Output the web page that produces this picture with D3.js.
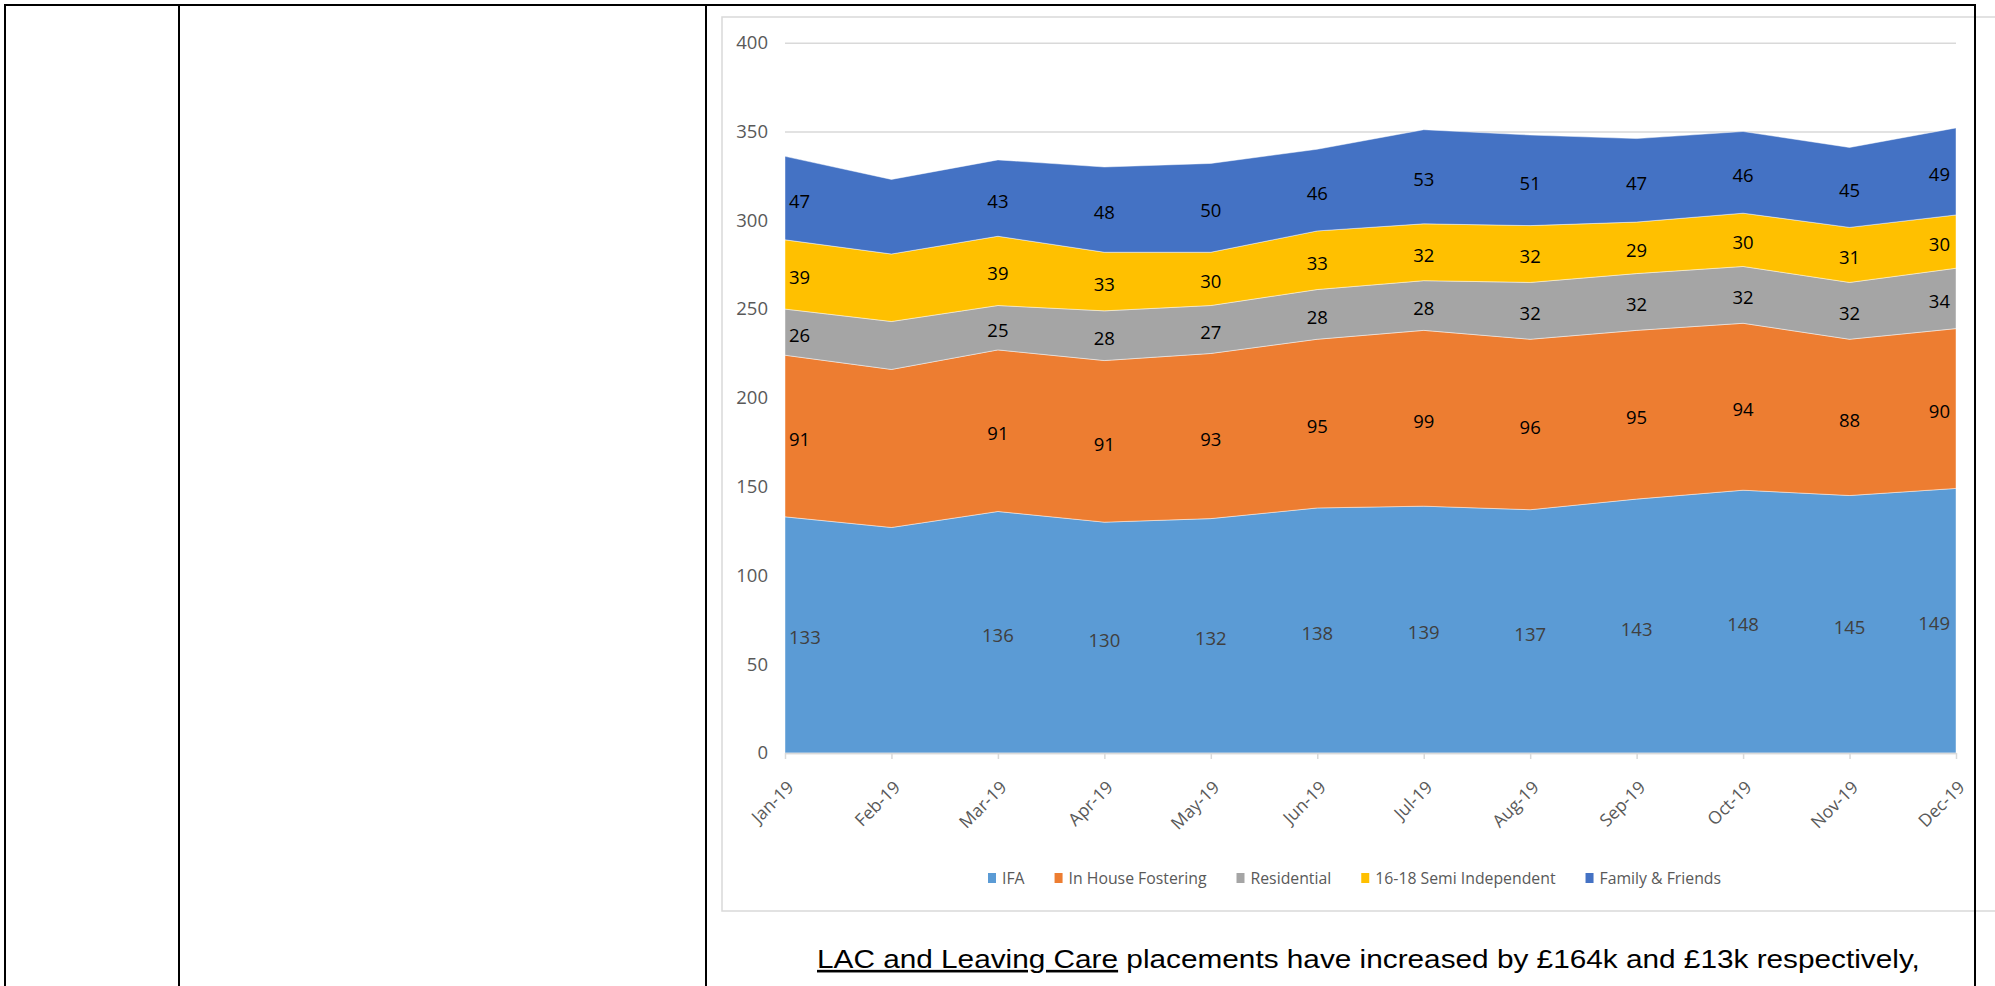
<!DOCTYPE html>
<html>
<head>
<meta charset="utf-8">
<script src="https://cdn.jsdelivr.net/npm/d3@7/dist/d3.min.js"></script>
<style>
  body { margin: 0; background: #fff; }
  svg { display: block; }
</style>
</head>
<body>
<svg width="1995" height="986"></svg>
<script>
const svg = d3.select("svg");

const months = ["Jan-19", "Feb-19", "Mar-19", "Apr-19", "May-19", "Jun-19", "Jul-19", "Aug-19", "Sep-19", "Oct-19", "Nov-19", "Dec-19"];
const ifa = [133, 127, 136, 130, 132, 138, 139, 137, 143, 148, 145, 149];
const inHouse = [91, 89, 91, 91, 93, 95, 99, 96, 95, 94, 88, 90];
const residential = [26, 27, 25, 28, 27, 28, 28, 32, 32, 32, 32, 34];
const semiIndependent = [39, 38, 39, 33, 30, 33, 32, 32, 29, 30, 31, 30];
const familyFriends = [47, 42, 43, 48, 50, 46, 53, 51, 47, 46, 45, 49];
const seriesNames = ["IFA", "In House Fostering", "Residential", "16-18 Semi Independent", "Family & Friends"];
const unlabelled = ["Feb-19"];
const yTicks = [0, 50, 100, 150, 200, 250, 300, 350, 400];
const colors = ["#5B9BD5", "#ED7D31", "#A5A5A5", "#FFC000", "#4472C4"];
const labelColors = ["#404040", "#000", "#000", "#000", "#000"];

const rows = months.map((m, i) => ({
  month: m,
  "IFA": ifa[i],
  "In House Fostering": inHouse[i],
  "Residential": residential[i],
  "16-18 Semi Independent": semiIndependent[i],
  "Family & Friends": familyFriends[i]
}));

const font = "'Open Sans', sans-serif";

//CHART FRAME
svg.append("rect")
   .attr("x", 722).attr("y", 17)
   .attr("width", 1320).attr("height", 894)
   .attr("fill", "#fff")
   .attr("stroke", "#d9d9d9")
   .attr("stroke-width", 1.5);

//SCALES
const xScale = d3.scalePoint().domain(months).range([785, 1956]);
const yScale = d3.scaleLinear().domain([0, 400]).range([753, 42.7]);

//GRID + Y AXIS
const yAxis = svg.append("g")
   .attr("transform", "translate(785,0)")
   .call(d3.axisLeft(yScale).tickValues(yTicks).tickSize(-(1956 - 785)).tickPadding(17));
yAxis.select(".domain").remove();
yAxis.selectAll("line").attr("stroke", "#d9d9d9").attr("stroke-width", 1.5);
yAxis.selectAll("text")
   .attr("fill", "#595959")
   .style("font-family", font)
   .style("font-size", "18.5px");

//STACKED AREAS
const stacked = d3.stack().keys(seriesNames)(rows);
const area = d3.area()
   .x(d => xScale(d.data.month))
   .y0(d => yScale(d[0]))
   .y1(d => yScale(d[1]));

svg.append("g").selectAll("path")
   .data(stacked)
   .enter()
   .append("path")
   .attr("d", area)
   .attr("fill", (d, i) => colors[i])
   .attr("stroke", "#fff")
   .attr("stroke-opacity", 0.45)
   .attr("stroke-width", 1);

//X AXIS
const xAxis = svg.append("g")
   .attr("transform", "translate(0,753)")
   .call(d3.axisBottom(xScale).tickSize(6).tickSizeOuter(0));
xAxis.select(".domain").attr("stroke", "#d9d9d9").attr("stroke-width", 1.5);
xAxis.selectAll("line").attr("stroke", "#d9d9d9").attr("stroke-width", 1.5);
xAxis.selectAll("text")
   .attr("fill", "#595959")
   .attr("text-anchor", "end")
   .attr("y", 0)
   .attr("dy", "0.35em")
   .attr("transform", "translate(5,31) rotate(-45)")
   .style("font-family", font)
   .style("font-size", "17.5px");

//DATA LABELS
const last = months.length - 1;
stacked.forEach((s, si) => {
  svg.append("g").selectAll("text")
     .data(s.filter(d => !unlabelled.includes(d.data.month)))
     .enter()
     .append("text")
     .attr("x", d => {
       const i = months.indexOf(d.data.month);
       return xScale(d.data.month) + (i === 0 ? 4 : i === last ? -6 : 0);
     })
     .attr("y", d => yScale((d[0] + d[1]) / 2) + 3)
     .attr("dy", "0.35em")
     .attr("text-anchor", d => {
       const i = months.indexOf(d.data.month);
       return i === 0 ? "start" : i === last ? "end" : "middle";
     })
     .attr("fill", labelColors[si])
     .style("font-family", font)
     .style("font-size", "18.5px")
     .text(d => d[1] - d[0]);
});

//LEGEND
const legend = svg.append("g").attr("transform", "translate(988,878)");
let lx = 0;
seriesNames.forEach((name, i) => {
  legend.append("rect")
     .attr("x", lx).attr("y", -5)
     .attr("width", 8).attr("height", 10)
     .attr("fill", colors[i]);
  const t = legend.append("text")
     .attr("x", lx + 14).attr("y", 0)
     .attr("dy", "0.35em")
     .attr("fill", "#595959")
     .style("font-family", font)
     .style("font-size", "15.8px")
     .text(name);
  lx += 14 + t.node().getComputedTextLength() + 30;
});

//TEXT BELOW
const para = svg.append("text")
   .attr("transform", "translate(817,968) scale(1.145,1)")
   .style("font-family", "'Liberation Sans', Arial, sans-serif")
   .style("font-size", "26px")
   .attr("fill", "#000");
para.append("tspan").style("text-decoration", "underline").text("LAC and Leaving Care");
para.append("tspan").text(" placements have increased by £164k and £13k respectively,");

//TABLE LINES
const table = svg.append("g").attr("stroke", "#000").attr("stroke-width", 2);
table.append("line").attr("x1", 4).attr("x2", 1976).attr("y1", 5).attr("y2", 5);
[5, 179, 706, 1975].forEach(x => {
  table.append("line").attr("x1", x).attr("x2", x).attr("y1", 4).attr("y2", 986);
});
</script>
</body>
</html>
